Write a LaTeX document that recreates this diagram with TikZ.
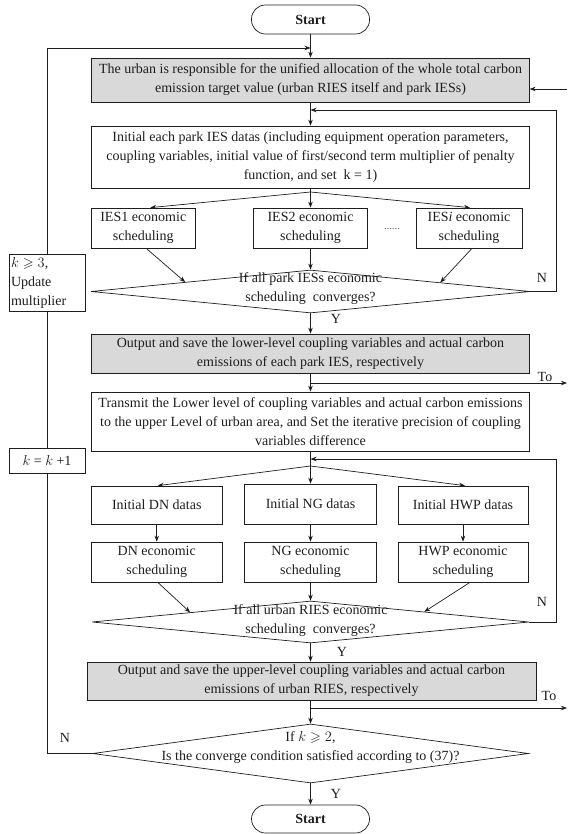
\documentclass[tikz,border=0pt]{standalone}
\usepackage{amssymb}
\usepackage{fontspec}
\setmainfont{Liberation Serif}
\usetikzlibrary{shapes.geometric,arrows.meta,calc}
\definecolor{boxgray}{HTML}{D9D9D9}
\definecolor{ink}{HTML}{1E1E1E}
\begin{document}
\begin{tikzpicture}[x=1pt,y=-1pt,
  every node/.style={font=\fontsize{14}{19}\selectfont, text=ink},
  box/.style={draw=ink, line width=0.7pt, align=center, inner sep=1pt},
  gbox/.style={box, fill=boxgray},
  term/.style={draw=ink, line width=0.7pt, rounded corners=14pt, font=\bfseries\fontsize{14}{16}\selectfont},
  dia/.style={diamond, draw=ink, line width=0.7pt, inner sep=0pt},
  arr/.style={draw=ink, line width=0.7pt, -{Stealth[length=6pt,width=4.5pt]}},
  ln/.style={draw=ink, line width=0.7pt},
  lbl/.style={inner sep=0pt}
]
\useasboundingbox (0,0) rectangle (567,834);

% main column
\node[term, minimum width=118pt, minimum height=29pt] (start) at (310.5,19.5) {Start};
\node[gbox, minimum width=437.5pt, minimum height=44pt] (b1) at (310.5,80) {The urban is responsible for the unified allocation of the whole total carbon\\emission target value (urban RIES itself and park IESs)};
\node[box, minimum width=437.5pt, minimum height=62pt] (b2) at (310.5,157) {Initial each park IES datas (including equipment operation parameters,\\coupling variables, initial value of first/second term multiplier of penalty\\function, and set\ \ k = 1)};

\node[box, minimum width=103.5pt, minimum height=40pt] (ies1) at (143.25,228) {IES1 economic\\scheduling};
\node[box, minimum width=114pt, minimum height=40pt] (ies2) at (310.5,228) {IES2 economic\\scheduling};
\node[box, minimum width=106pt, minimum height=40pt] (iesi) at (469,228) {IES\textit{i} economic\\scheduling};
\node[lbl, font=\fontsize{9}{9}\selectfont] (dots) at (392,229) {.\kern0.4pt.\kern0.4pt.\kern0.4pt.\kern0.4pt.\kern0.4pt.};

\node[dia, minimum width=439pt, minimum height=43pt] (d1) at (310.5,291.5) {};
\node[lbl, align=center] (d1t) at (310.5,289) {If all park IESs economic\\scheduling\ \ converges?};

\node[gbox, minimum width=437.5pt, minimum height=39pt] (b3) at (310.5,353.5) {Output and save the lower-level coupling variables and actual carbon\\emissions of each park IES, respectively};
\node[box, minimum width=437.5pt, minimum height=59pt] (b4) at (310.5,421.5) {Transmit the Lower level of coupling variables and actual carbon emissions\\to the upper Level of urban area, and Set the iterative precision of coupling\\variables difference};

\node[box, minimum width=130.5pt, minimum height=38pt] (dn) at (156.75,505) {Initial DN datas};
\node[box, minimum width=132pt, minimum height=40pt] (ng) at (310.5,504) {Initial NG datas};
\node[box, minimum width=130pt, minimum height=38pt] (hwp) at (463,505) {Initial HWP datas};
\node[box, minimum width=130.5pt, minimum height=40pt] (dne) at (156.75,562) {DN economic\\scheduling};
\node[box, minimum width=132pt, minimum height=40pt] (nge) at (310.5,562) {NG economic\\scheduling};
\node[box, minimum width=130pt, minimum height=40pt] (hwpe) at (463,562) {HWP economic\\scheduling};

\node[dia, minimum width=437pt, minimum height=42pt] (d2) at (310.5,622) {};
\node[lbl, align=center] (d2t) at (310.5,621) {If all urban RIES economic\\scheduling\ \ converges?};

\node[gbox, minimum width=449pt, minimum height=38pt] (b5) at (311.5,681) {Output and save the upper-level coupling variables and actual carbon\\emissions of urban RIES, respectively};
\node[dia, minimum width=436pt, minimum height=59pt] (d3) at (310.5,753.5) {};
\node[lbl, align=center] (d3t) at (310.5,748) {If $k \geqslant 2$,\\Is the converge condition satisfied according to (37)?};
\node[term, minimum width=118pt, minimum height=28pt] (end) at (310.5,819) {Start};

% connectors along the main column
\draw[arr] (start) -- (b1);
\draw[arr] (b1) -- (b2);
\coordinate (br1) at (310.5,192);
\draw[ln] (b2.south) -- (br1);
\draw[arr] (br1) -- ([xshift=7pt]ies1.north);
\draw[arr] (br1) -- (ies2.north);
\draw[arr] (br1) -- ([xshift=1pt]iesi.north);
\draw[arr] ([xshift=3pt]ies1.south) -- ($(d1.west)!0.43!(d1.north)$);
\draw[arr] (ies2) -- (d1.north);
\draw[arr] ([xshift=3pt]iesi.south) -- ($(d1.north)!0.59!(d1.east)$);
\draw[arr] (d1.south) -- (b3.north);
\draw[arr] (b3.south) -- (b4.north);
\coordinate (br2) at (310.5,466);
\draw[ln] (b4.south) -- (br2);
\draw[arr] (br2) -- ([xshift=1pt]dn.north);
\draw[arr] (br2) -- (ng.north);
\draw[arr] (br2) -- ([xshift=2pt]hwp.north);
\draw[arr] (dn) -- (dne);
\draw[arr] (ng) -- (nge);
\draw[arr] (hwp) -- (hwpe);
\draw[arr] ([xshift=1pt]dne.south) -- ($(d2.west)!0.45!(d2.north)$);
\draw[arr] (nge) -- (d2.north);
\draw[arr] ([xshift=7pt]hwpe.south) -- ($(d2.north)!0.52!(d2.east)$);
\draw[arr] (d2.south) -- (b5.north -| d2.south);
\draw[arr] (b5.south -| d3.north) -- (d3.north);
\draw[arr] (d3.south) -- (end.north);

% feedback loops on the right
\coordinate (r2) at (556,110);
\draw[arr] (d1.east) -- (d1.east -| r2) -- (r2) -- (r2 -| b2.north);
\coordinate (r3) at (556,459);
\draw[arr] (d2.east) -- (d2.east -| r3) -- (r3) -- (r3 -| b4.south);

% free-ended "To" links and the incoming link
\coordinate (in1) at (567,89);
\draw[arr] (in1) -- (in1 -| b1.east);
\coordinate (t1s) at (310.5,383);
\coordinate (t1e) at (567,383);
\draw[arr] (t1s) -- (t1e);
\coordinate (t2s) at (310.5,708);
\coordinate (t2e) at (567,708);
\draw[arr] (t2s) -- (t2e);

% outer loop on the left
\coordinate (lx) at (47,48);
\draw[arr] (d3.west) -- (d3.west -| lx) -- (lx) -- (lx -| start.south);
\node[box, fill=white, minimum width=76pt, minimum height=57pt, text width=72pt, align=left, inner sep=2pt] (k3) at (47,282.5) {$k \geqslant 3$,\\Update\\multiplier};
\node[box, fill=white, minimum width=76pt, minimum height=25pt] (k1) at (47,460.5) {$k$ = $k$ +1};

% labels
\node[lbl] (n1) at (542,278) {N};
\node[lbl] (n2) at (542,602) {N};
\node[lbl] (n3) at (65,738) {N};
\node[lbl] (y1) at (336,319) {Y};
\node[lbl] (y2) at (342,652) {Y};
\node[lbl] (y3) at (336,794) {Y};
\node[lbl] (to1) at (545,377) {To};
\node[lbl] (to2) at (549,696) {To};
\end{tikzpicture}
\end{document}
